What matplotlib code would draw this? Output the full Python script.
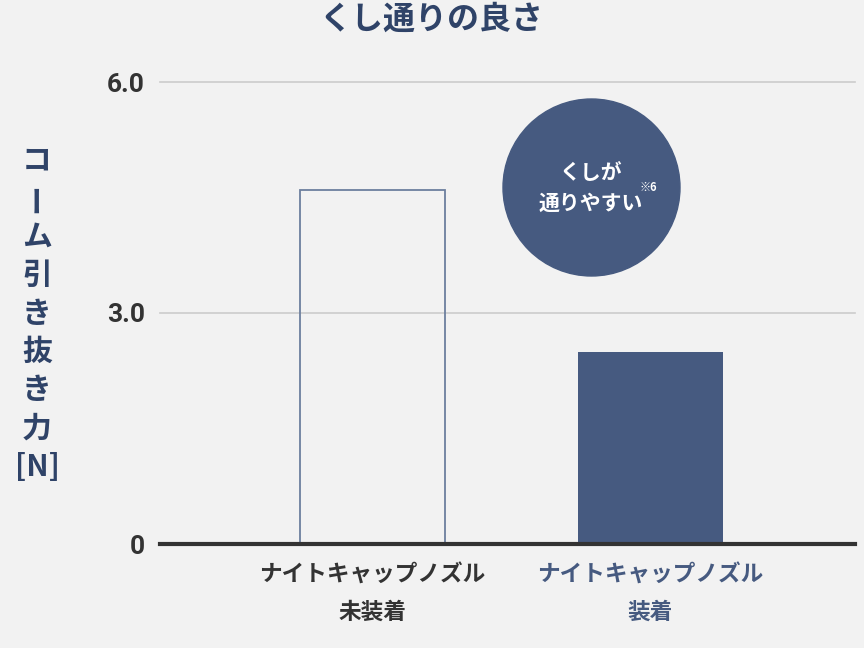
import matplotlib
matplotlib.use('Agg')
import matplotlib.pyplot as plt
from matplotlib.patches import Ellipse

# data
categories = ['ナイトキャップノズル\n未装着', 'ナイトキャップノズル\n装着']
values = [4.6, 2.5]
yticks = [0, 3.0, 6.0]
ytick_labels = ['0', '3.0', '6.0']
title = 'くし通りの良さ'
ylabel_chars = ['コ', 'ー', 'ム', '引', 'き', '抜', 'き', '力', '[N]']
badge_lines = ['くしが', '通りやすい']
badge_note = '※6'

bg = '#f2f2f2'
navy = '#465a80'
dark_navy = '#2f4368'
jp = ['Noto Sans CJK JP', 'DejaVu Sans']
num = ['Roboto', 'DejaVu Sans']

fig = plt.figure(figsize=(8.64, 6.48), dpi=100, facecolor=bg)
ax = fig.add_axes([160 / 864, 1 - 544 / 648, 695 / 864, 462 / 648])
ax.set_facecolor(bg)

x = list(range(len(values)))
ax.bar(x[0], values[0], width=0.52, facecolor='none', edgecolor='#6d7f9e', linewidth=1.3, zorder=3)
ax.bar(x[1], values[1], width=0.52, color=navy, zorder=3)

ax.set_xlim(-0.764, 1.736)
ax.set_ylim(0, 6.0)
ax.set_yticks(yticks)
ax.set_yticklabels(ytick_labels, family=num, fontsize=19, fontweight='bold', color='#333333')
ax.tick_params(axis='y', length=0, pad=11)
for yv in yticks[1:]:
    ax.axhline(yv, color='#cccccc', linewidth=1.2, zorder=1, clip_on=False)

ax.set_xticks(x)
ax.set_xticklabels(categories, family=jp, fontsize=16.3, fontweight='bold')
ax.tick_params(axis='x', length=0, pad=14)
for lab, col in zip(ax.get_xticklabels(), ['#333333', navy]):
    lab.set_color(col)
    lab.set_linespacing(1.8)

for s in ['top', 'right', 'left']:
    ax.spines[s].set_visible(False)
ax.spines['bottom'].set_color('#333333')
ax.spines['bottom'].set_linewidth(3)
ax.spines['bottom'].set_zorder(4)

fig.text(431 / 864, 1 - 20 / 648, title, family=jp, fontsize=23, fontweight='bold',
         color=dark_navy, ha='center', va='center')

# stacked vertical y label, one character per line
for i, ch in enumerate(ylabel_chars):
    yc = 160 + i * 38.4
    fig.text(37 / 864, 1 - yc / 648, ch, family=jp, fontsize=21.5, fontweight='bold',
             color=dark_navy, ha='center', va='center',
             rotation=90 if ch == 'ー' else 0)

# badge
fig.add_artist(Ellipse((591.5 / 864, 1 - 187.5 / 648), 177 / 864, 177 / 648,
                       transform=fig.transFigure, color=navy, zorder=5))
fig.text(591 / 864, 1 - 172 / 648, badge_lines[0], family=jp, fontsize=15,
         fontweight='bold', color='white', ha='center', va='center', zorder=6)
fig.text(591 / 864, 1 - 203 / 648, badge_lines[1], family=jp, fontsize=15,
         fontweight='bold', color='white', ha='center', va='center', zorder=6)
fig.text(648 / 864, 1 - 187 / 648, badge_note, family=jp, fontsize=8,
         fontweight='bold', color='white', ha='center', va='center', zorder=6)

fig.savefig('out.png', dpi=100, facecolor=bg)
